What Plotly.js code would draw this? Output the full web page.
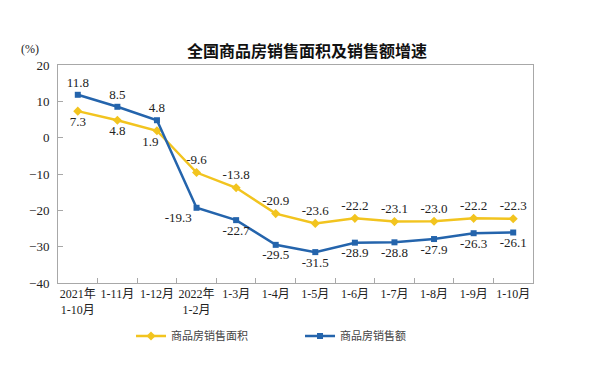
<!DOCTYPE html>
<html><head><meta charset="utf-8">
<script src="https://cdn.plot.ly/plotly-3.0.1.min.js"></script>
<style>body{margin:0;background:#fff}#c{width:601px;height:366px}</style>
</head><body><div id="c"></div>
<script>
const categories = ["2021年<br>1-10月","1-11月","1-12月","2022年<br>1-2月","1-3月","1-4月","1-5月","1-6月","1-7月","1-8月","1-9月","1-10月"];
const areaGrowth = [7.3, 4.8, 1.9, -9.6, -13.8, -20.9, -23.6, -22.2, -23.1, -23.0, -22.2, -22.3];
const salesGrowth = [11.8, 8.5, 4.8, -19.3, -22.7, -29.5, -31.5, -28.9, -28.8, -27.9, -26.3, -26.1];
const areaName = "商品房销售面积";
const salesName = "商品房销售额";
const titleText = "全国商品房销售面积及销售额增速";

const serif = "Liberation Serif, Times New Roman, Noto Sans CJK SC, serif";
const fmt = v => v.toFixed(1);
const areaPos = ["bottom center","bottom center","bottom center","top center","top center","top center","top center","top center","top center","top center","top center","top center"];
const salesPos = ["top center","top center","top center","bottom left","bottom center","bottom center","bottom center","bottom center","bottom center","bottom center","bottom center","bottom center"];
// small left nudge for the label that sits next to the steep blue segment
const areaText = areaGrowth.map((v, i) => i === 2 ? fmt(v) + "\u00a0\u00a0\u00a0\u00a0" : fmt(v));

const traces = [
  {x: categories, y: areaGrowth, name: areaName, type: "scatter", mode: "lines+markers+text",
   line: {color: "#F2C41F", width: 2.5}, marker: {symbol: "diamond", size: 7, color: "#F2C41F"},
   text: areaText, textposition: areaPos, textfont: {family: serif, size: 13, color: "#222"},
   cliponaxis: false},
  {x: categories, y: salesGrowth, name: salesName, type: "scatter", mode: "lines+markers+text",
   line: {color: "#2464AC", width: 2.5}, marker: {symbol: "square", size: 6, color: "#2464AC"},
   text: salesGrowth.map(fmt), textposition: salesPos, textfont: {family: serif, size: 13, color: "#222"},
   cliponaxis: false}
];

const layout = {
  width: 601, height: 366,
  margin: {l: 58, r: 68, t: 65, b: 83},
  paper_bgcolor: "#fff", plot_bgcolor: "#fff",
  showlegend: true,
  font: {family: serif, color: "#222"},
  title: {text: titleText, x: 0.524, xref: "paper", y: 0.875, yref: "container", xanchor: "center",
          font: {family: "Noto Sans CJK SC", size: 16, color: "#111", weight: "bold"}},
  xaxis: {type: "category", range: [-0.5, 11.5], automargin: false, showgrid: false, zeroline: false, showline: true, mirror: true,
          linecolor: "#A8A8A8", linewidth: 1, ticks: "inside", tickson: "boundaries", ticklen: 5,
          tickcolor: "#A8A8A8", tickangle: 0, tickfont: {family: serif, size: 12, color: "#222"}},
  yaxis: {range: [-40, 20], dtick: 10, automargin: false, showgrid: false, zeroline: false, showline: true, mirror: true,
          linecolor: "#A8A8A8", linewidth: 1, ticks: "inside", ticklen: 5, tickcolor: "#A8A8A8",
          ticklabelstandoff: 5, tickfont: {family: serif, size: 13, color: "#222"}},
  legend: {orientation: "h", xref: "container", yref: "container", x: 0.218, xanchor: "left", y: 0.082, yanchor: "middle",
           entrywidth: 124, entrywidthmode: "pixels",
           font: {family: "Noto Sans CJK SC", size: 11, color: "#444"}},
  annotations: [
    {text: "(%)", xref: "paper", yref: "paper", x: -0.035, y: 1.075, xanchor: "right", yanchor: "middle",
     showarrow: false, font: {family: serif, size: 12, color: "#222"}}
  ]
};
Plotly.newPlot("c", traces, layout, {displayModeBar: false, staticPlot: true});
</script></body></html>
